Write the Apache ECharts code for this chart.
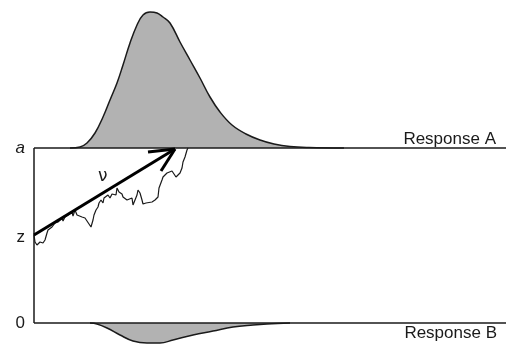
<!DOCTYPE html>
<html>
<head>
<meta charset="utf-8">
<script src="https://cdn.jsdelivr.net/npm/echarts@6/dist/echarts.min.js"></script>
<style>html,body{margin:0;padding:0;background:#fff;}#c{width:506px;height:345px;}</style>
</head>
<body>
<div id="c"></div>
<script>
// Boundary levels (evidence units)
var boundaryA = 175;   // upper boundary a
var startZ = 87;       // starting point z
var boundaryB = 0;     // lower boundary 0
var timeMax = 472;

// Tick labels on the evidence axis
var tickValues = [0, 86, 175];
var tickLabels = ['0', 'z', 'a'];

// Response A RT density (height above boundary a)
var densAx = [36, 46, 53, 61, 69, 76, 83, 89, 96, 103, 109, 116, 123, 129, 136, 146, 156, 166, 176, 186, 198, 212, 226, 240, 256, 275, 310];
var densAh = [0, 1, 5, 15, 31, 48, 65, 83, 105, 123, 133, 136, 135, 131, 125, 106, 88, 70, 51, 36, 23, 14, 8, 4, 1.5, 0.5, 0];

// Response B RT density (depth below boundary 0)
var densBx = [56, 63, 73, 86, 99, 113, 126, 139, 159, 179, 199, 219, 233, 256];
var densBh = [0, -1, -5, -12, -18, -20, -20, -17, -12, -8, -4, -2, -1, 0];

// Sample path of accumulated evidence
var walkT = [0, 1, 3, 6, 9, 11, 13, 14, 16, 18, 19, 21, 23, 24, 26, 28, 29, 31, 33, 34, 36, 38, 39, 41, 43, 45, 48, 49, 51, 53, 55, 57, 59, 60, 62, 64, 65, 67, 69, 70, 72, 74, 76, 78, 80, 82, 83, 85, 88, 89, 91, 93, 95, 98, 99, 101, 103, 104, 106, 108, 109, 112, 114, 118, 121, 124, 125, 128, 129, 131, 133, 135, 138, 140, 142, 144, 146, 148, 149, 151, 153, 154];
var walkE = [88, 81, 78, 81, 80, 83, 90, 93, 95, 96, 98, 100, 98, 101, 103, 105, 102, 106, 104, 108, 106, 111, 107, 113, 108, 110, 106, 108, 105, 103, 99, 96, 103, 108, 113, 116, 120, 123, 120, 125, 123, 128, 125, 129, 130, 128, 135, 131, 129, 126, 128, 123, 121, 125, 118, 120, 128, 133, 130, 123, 119, 120, 119, 121, 123, 126, 135, 143, 146, 145, 150, 148, 152, 150, 146, 145, 150, 155, 161, 166, 173, 175];

// Drift rate arrow (tail, tip, barbs)
var arrowShaft = [[0, 88], [141, 174]];
var arrowBarb1 = [[114, 171], [141, 174]];
var arrowBarb2 = [[127, 152], [141, 174]];

var ink = '#1a1a1a';
var fill = '#b2b2b2';

function zip(xs, ys, off) { return xs.map(function (x, i) { return [x, (off || 0) + ys[i]]; }); }

var chart = echarts.init(document.getElementById('c'), null, {renderer: 'canvas'});
var lineBase = {type: 'line', symbol: 'none', silent: true, animation: false};

chart.setOption({
  animation: false,
  backgroundColor: '#fff',
  grid: {left: 34, right: 0, top: 0, bottom: 0},
  xAxis: {type: 'value', min: 0, max: timeMax, show: false},
  yAxis: {
    type: 'value', min: -22, max: 323,
    axisLine: {show: false}, axisTick: {show: false}, splitLine: {show: false},
    axisLabel: {
      show: true, customValues: tickValues, margin: 9,
      fontFamily: 'Liberation Sans', fontSize: 17, color: ink,
      formatter: function (v) {
        var i = tickValues.indexOf(v);
        var t = i >= 0 ? tickLabels[i] : '';
        return t === 'a' ? '{i|a}' : t;
      },
      rich: {i: {fontStyle: 'italic', fontFamily: 'Liberation Sans', fontSize: 17, color: ink}}
    }
  },
  graphic: [
    {type: 'text', right: 10, top: 131, style: {text: 'Response A', font: '17px "Liberation Sans"', fill: ink}},
    {type: 'text', right: 9, top: 325, style: {text: 'Response B', font: '17px "Liberation Sans"', fill: ink}},
    {type: 'text', left: 98, top: 168, style: {text: 'ν', font: '17px "DejaVu Sans"', fill: ink}}
  ],
  series: [
    Object.assign({}, lineBase, {
      name: 'densA', data: zip(densAx, densAh, boundaryA), smooth: 0.4,
      lineStyle: {color: ink, width: 1.5}, areaStyle: {color: fill, opacity: 1, origin: boundaryA}
    }),
    Object.assign({}, lineBase, {
      name: 'densB', data: zip(densBx, densBh), smooth: 0.4,
      lineStyle: {color: ink, width: 1.5}, areaStyle: {color: fill, opacity: 1, origin: boundaryB}
    }),
    Object.assign({}, lineBase, {name: 'upper', data: [[0, boundaryA], [timeMax, boundaryA]], lineStyle: {color: ink, width: 1.5}}),
    Object.assign({}, lineBase, {name: 'lower', data: [[0, boundaryB], [timeMax, boundaryB]], lineStyle: {color: ink, width: 1.5}}),
    Object.assign({}, lineBase, {name: 'left', data: [[0, boundaryB], [0, boundaryA]], lineStyle: {color: ink, width: 1.5}}),
    Object.assign({}, lineBase, {name: 'walk', data: zip(walkT, walkE), lineStyle: {color: ink, width: 1.2}}),
    Object.assign({}, lineBase, {name: 'arrow', data: arrowShaft, lineStyle: {color: '#000', width: 3}}),
    Object.assign({}, lineBase, {name: 'barb1', data: arrowBarb1, lineStyle: {color: '#000', width: 3}}),
    Object.assign({}, lineBase, {name: 'barb2', data: arrowBarb2, lineStyle: {color: '#000', width: 3}})
  ]
});
</script>
</body>
</html>
